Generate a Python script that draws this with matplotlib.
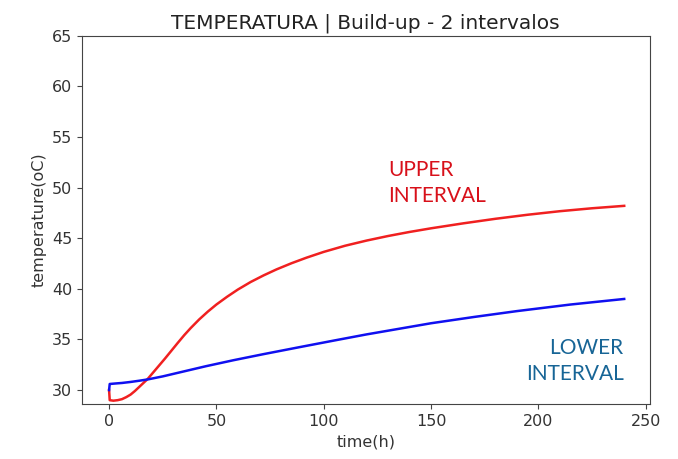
import numpy as np
import matplotlib
matplotlib.use("Agg")
import matplotlib.pyplot as plt

# values
time_upper = [0, 0.3, 2, 4, 6, 8, 10, 12, 14, 16, 18, 20, 23, 26, 29, 32, 35, 38, 42,
              46, 50, 55, 60, 66, 72, 78, 85, 92, 100, 110, 120, 130, 140, 150, 165,
              180, 195, 210, 225, 240]
temp_upper = [30.0, 29.0, 28.95, 29.0, 29.1, 29.3, 29.55, 29.9, 30.3, 30.7, 31.1, 31.6,
              32.35, 33.1, 33.88, 34.66, 35.42, 36.12, 36.98, 37.75, 38.45, 39.22,
              39.93, 40.68, 41.33, 41.92, 42.53, 43.08, 43.65, 44.26, 44.77, 45.22,
              45.62, 45.98, 46.47, 46.92, 47.32, 47.67, 47.96, 48.2]

time_lower = [0, 0.3, 3, 6, 10, 14, 18, 25, 35, 45, 58, 72, 89, 105, 120, 135, 150, 170,
              190, 215, 240]
temp_lower = [30.0, 30.6, 30.65, 30.7, 30.8, 30.92, 31.05, 31.35, 31.85, 32.35, 32.95,
              33.55, 34.25, 34.9, 35.5, 36.05, 36.6, 37.22, 37.8, 38.45, 39.0]

title = "TEMPERATURA | Build-up - 2 intervalos"
x_label = "time(h)"
y_label = "temperature(oC)"
y_ticks = [30, 35, 40, 45, 50, 55, 60, 65]
x_ticks = [0, 50, 100, 150, 200, 250]

fig = plt.figure(figsize=(6.78, 4.59), dpi=100)
ax = fig.add_axes([0.121, 0.120, 0.837, 0.802])

ax.plot(time_upper, temp_upper, color="#f02020", linewidth=1.8)
ax.plot(time_lower, temp_lower, color="#1010f0", linewidth=1.8)

ax.set_xlim(-12.6, 251.8)
ax.set_ylim(28.63, 65)
ax.set_xticks(x_ticks)
ax.set_yticks(y_ticks)

ax.set_title(title, fontsize=14.5, color="#222222", pad=5)
ax.set_xlabel(x_label, fontsize=11.5, color="#333333")
ax.set_ylabel(y_label, fontsize=11.5, color="#333333")
ax.tick_params(labelsize=11.5, labelcolor="#333333", color="#444444")
for sp in ax.spines.values():
    sp.set_color("#444444")

ax.text(130.1, 52.7, "UPPER\nINTERVAL", color="#d8101a", fontsize=15,
        family="Lato", ha="left", va="top", linespacing=1.35)
ax.text(239.7, 35.15, "LOWER\nINTERVAL", color="#176596", fontsize=15,
        family="Lato", ha="right", va="top", linespacing=1.35)

fig.savefig("out.png", dpi=100)
